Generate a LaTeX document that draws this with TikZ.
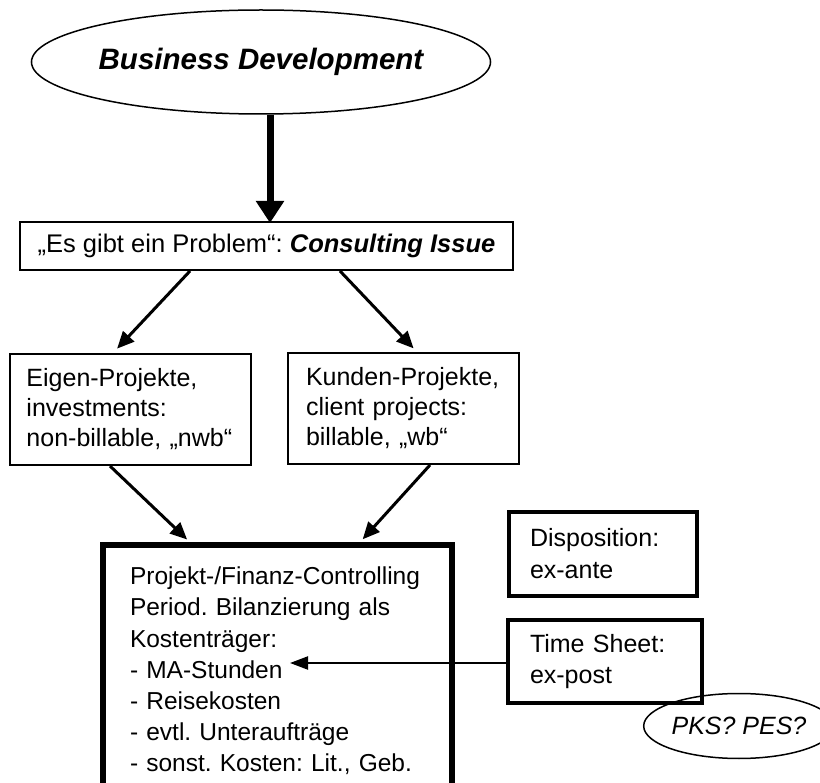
\documentclass[tikz,border=0pt]{standalone}
\usepackage{fontspec}
\setmainfont{Liberation Sans}
\usetikzlibrary{shapes.geometric,arrows.meta}
\frenchspacing
\newcommand{\keep}[1]{\mbox{#1}}
\begin{document}
\begin{tikzpicture}[x=1pt,y=-1pt,
  every node/.style={font=\fontsize{25}{31}\selectfont},
  thinbox/.style={draw, rectangle, line width=2pt, align=left, inner ysep=0pt},
  thickbox/.style={draw, rectangle, line width=4pt, align=left, inner ysep=0pt},
  heavybox/.style={draw, rectangle, line width=5.5pt, align=left, inner ysep=0pt},
  oval/.style={draw, ellipse, line width=1.5pt, inner sep=0pt},
  flow/.style={line width=3pt, -{Triangle[length=17pt,width=15pt]}},
  mainflow/.style={line width=7pt, -{Triangle[length=22pt,width=27pt]}},
  feed/.style={line width=2.2pt, -{Triangle[length=18pt,width=13pt]}}
]
\useasboundingbox[fill=white] (0,0) rectangle (820,783);

% top ellipse
\node[oval, minimum width=452pt, minimum height=104pt] (bd) at (261,62)
  {\fontsize{29.5}{34}\selectfont\bfseries\itshape Business Development};

% problem box
\node[thinbox, minimum width=493pt, minimum height=48pt, inner xsep=0pt, align=center,
      font=\fontsize{25.5}{31}\selectfont] (es) at (266.5,246)
  {„Es gibt ein Problem“: \textbf{\textit{Consulting Issue}}};

% project types
\node[thinbox, text width=207pt, inner xsep=17pt, minimum height=111pt,
      font=\fontsize{25}{30}\selectfont] (eigen) at (130,409.5)
  {\keep{Eigen-Projekte,}\\\keep{investments:}\\\keep{non-billable, „nwb“}};
\node[thinbox, text width=195pt, inner xsep=18pt, minimum height=111pt,
      font=\fontsize{25}{30}\selectfont] (kunden) at (403.5,408.5)
  {\keep{Kunden-Projekte,}\\\keep{client projects:}\\\keep{billable, „wb“}};

% controlling box
\node[heavybox, text width=295pt, inner xsep=27pt, minimum height=252pt,
      font=\fontsize{24.5}{31.2}\selectfont] (pfc) at (277.5,671)
  {\keep{Projekt-/Finanz-Controlling}\\Period. Bilanzierung als\\Kostenträger:\\- MA-Stunden\\- Reisekosten\\- evtl. Unteraufträge\\- sonst. Kosten: Lit., Geb.};

% planning boxes
\node[thickbox, text width=146pt, inner xsep=21pt, minimum height=84pt,
      font=\fontsize{25}{32}\selectfont] (dispo) at (603,554)
  {Disposition:\\ex-ante};
\node[thickbox, text width=150pt, inner xsep=22pt, minimum height=83pt,
      font=\fontsize{25}{30.5}\selectfont] (ts) at (605,661.5)
  {Time Sheet:\\ex-post};

\node[oval, minimum width=160pt, minimum height=65pt] (pks) at (739,726)
  {\itshape PKS? PES?};

\coordinate (ma) at (290,663);

% connectors
\draw[mainflow] ([xshift=3.5pt]es.north |- bd.south) -- ([xshift=3.5pt,yshift=-2pt]es.north);
\draw[flow, shorten >=6pt] ([xshift=-76.5pt]es.south) -- ([xshift=-17pt]eigen.north);
\draw[flow, shorten >=5pt] ([xshift=73.5pt]es.south) -- ([xshift=13.5pt]kunden.north);
\draw[flow, shorten >=4pt] ([xshift=-20pt]eigen.south) -- ([xshift=-87.5pt]pfc.north);
\draw[flow, shorten >=4pt] ([xshift=26.5pt]kunden.south) -- ([xshift=82.5pt]pfc.north);
\draw[feed] (ts.west |- ma) -- (ma);
\end{tikzpicture}
\end{document}
